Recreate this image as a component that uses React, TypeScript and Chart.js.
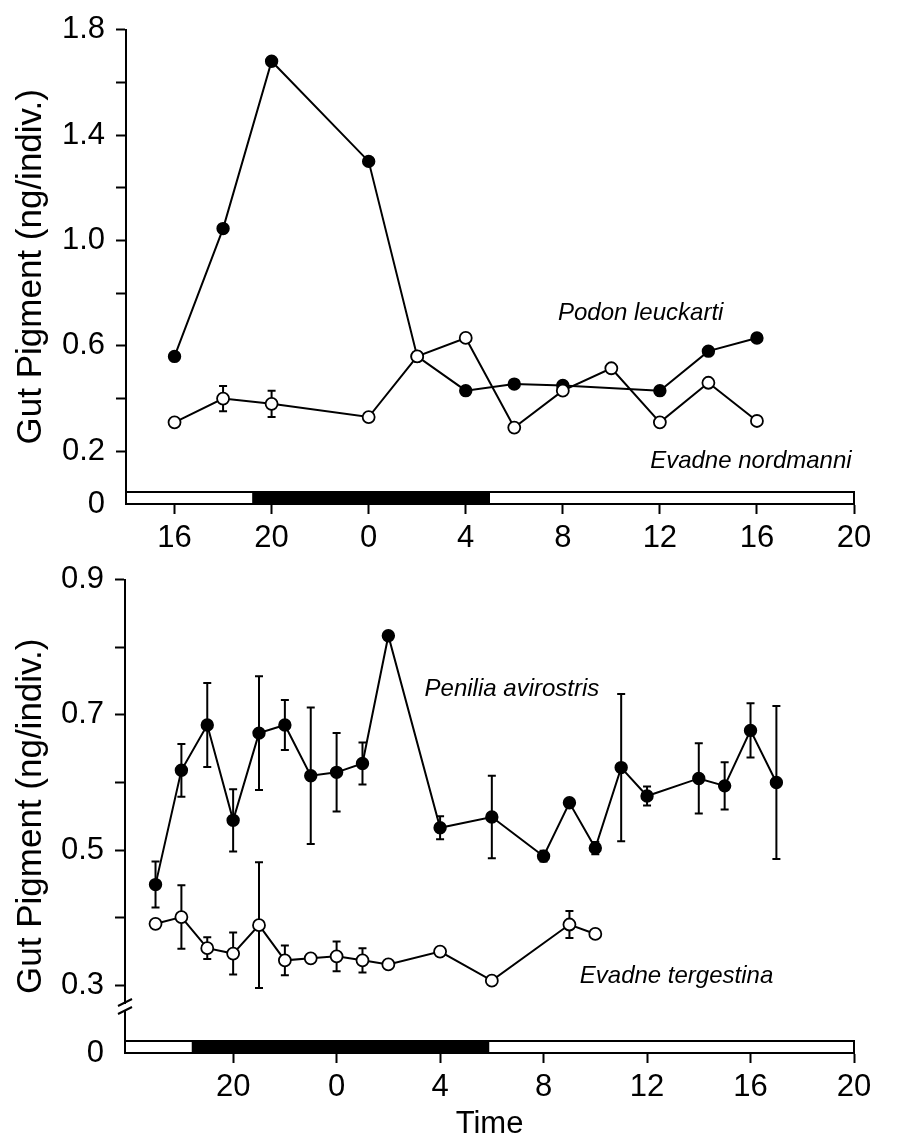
import React, { useEffect, useRef } from "react";
import { Chart, registerables } from "chart.js";

Chart.register(...registerables);

const FONT = '"Liberation Sans", Arial, Helvetica, sans-serif';

// ---------- Top panel data ----------
const topHourTicks = [16, 20, 24, 28, 32, 36, 40, 44];
const topValueTicks = [0, 0.2, 0.4, 0.6, 0.8, 1.0, 1.2, 1.4, 1.6, 1.8];
const topValueLabels = ["0", "0.2", "", "0.6", "", "1.0", "", "1.4", "", "1.8"];
const podonHours = [16, 18, 20, 24, 26, 28, 30, 32, 36, 38, 40];
const podonValues = [0.56, 1.045, 1.68, 1.3, 0.56, 0.43, 0.455, 0.45, 0.43, 0.58, 0.63];
const nordmanniHours = [16, 18, 20, 24, 26, 28, 30, 32, 34, 36, 38, 40];
const nordmanniValues = [0.31, 0.4, 0.38, 0.33, 0.56, 0.63, 0.29, 0.43, 0.515, 0.31, 0.46, 0.315];
const nordmanniErrors = [0, 0.048, 0.05, 0, 0, 0, 0, 0, 0, 0, 0, 0];
const topDark = [19.2, 29];

// ---------- Bottom panel data ----------
const bottomHourTicks = [20, 24, 28, 32, 36, 40, 44];
const bottomValueTicks = [0.2, 0.3, 0.4, 0.5, 0.6, 0.7, 0.8, 0.9];
const bottomValueLabels = ["0", "0.3", "", "0.5", "", "0.7", "", "0.9"];
const peniliaHours = [17, 18, 19, 20, 21, 22, 23, 24, 25, 26, 28, 30, 32, 33, 34, 35, 36, 38, 39, 40, 41];
const peniliaValues = [0.449, 0.618, 0.685, 0.544, 0.673, 0.685, 0.61, 0.615, 0.628, 0.817, 0.533, 0.549, 0.491, 0.57, 0.503, 0.622, 0.58, 0.606, 0.595, 0.677, 0.6];
const peniliaErrors = [0.034, 0.039, 0.062, 0.046, 0.084, 0.037, 0.101, 0.058, 0.031, 0, 0.017, 0.061, 0.008, 0, 0.009, 0.109, 0.014, 0.052, 0.035, 0.04, 0.113];
const tergestinaHours = [17, 18, 19, 20, 21, 22, 23, 24, 25, 26, 28, 30, 33, 34];
const tergestinaValues = [0.391, 0.401, 0.355, 0.347, 0.389, 0.337, 0.34, 0.343, 0.337, 0.331, 0.35, 0.307, 0.39, 0.376];
const tergestinaErrors = [0, 0.047, 0.016, 0.031, 0.093, 0.022, 0, 0.022, 0.018, 0, 0, 0, 0.02, 0];
const bottomDark = [18.4, 29.9];

const pts = (xs: number[], ys: number[]) => xs.map((x, i) => ({ x, y: ys[i] }));

const errorBarPlugin = {
  id: "errorBars",
  beforeDatasetsDraw(chart: any) {
    const ctx = chart.ctx;
    const xs = chart.scales.x;
    const ys = chart.scales.y;
    chart.data.datasets.forEach((ds: any) => {
      if (!ds.errors) return;
      ds.data.forEach((p: any, i: number) => {
        const e = ds.errors[i];
        if (!e) return;
        const x = xs.getPixelForValue(p.x);
        const y1 = ys.getPixelForValue(p.y + e);
        const y2 = ys.getPixelForValue(p.y - e);
        ctx.save();
        ctx.strokeStyle = "#000";
        ctx.lineWidth = 2;
        ctx.beginPath();
        ctx.moveTo(x, y1);
        ctx.lineTo(x, y2);
        ctx.moveTo(x - 4, y1);
        ctx.lineTo(x + 4, y1);
        ctx.moveTo(x - 4, y2);
        ctx.lineTo(x + 4, y2);
        ctx.stroke();
        ctx.restore();
      });
    });
  },
};

const makeDayNight = (dark: number[]) => ({
  id: "dayNight",
  beforeDatasetsDraw(chart: any) {
    const ctx = chart.ctx;
    const { left, right, bottom } = chart.chartArea;
    const xs = chart.scales.x;
    const h = 12;
    ctx.save();
    ctx.fillStyle = "#fff";
    ctx.fillRect(left, bottom - h, right - left, h);
    ctx.fillStyle = "#000";
    const x1 = xs.getPixelForValue(dark[0]);
    const x2 = xs.getPixelForValue(dark[1]);
    ctx.fillRect(x1, bottom - h, x2 - x1, h);
    ctx.strokeStyle = "#000";
    ctx.lineWidth = 2;
    ctx.strokeRect(left, bottom - h, right - left, h);
    ctx.restore();
  },
});

const makeLabels = (labels: { text: string; x: number; y: number }[]) => ({
  id: "speciesLabels",
  afterDatasetsDraw(chart: any) {
    const ctx = chart.ctx;
    const xs = chart.scales.x;
    const ys = chart.scales.y;
    ctx.save();
    ctx.fillStyle = "#000";
    ctx.font = `italic 24px ${FONT}`;
    ctx.textAlign = "left";
    ctx.textBaseline = "alphabetic";
    labels.forEach((l) => {
      ctx.fillText(l.text, xs.getPixelForValue(l.x), ys.getPixelForValue(l.y));
    });
    ctx.restore();
  },
});

const breakPlugin = {
  id: "axisBreak",
  afterDraw(chart: any) {
    const ctx = chart.ctx;
    const ys = chart.scales.y;
    const x = chart.chartArea.left;
    const y = ys.getPixelForValue(0.268);
    ctx.save();
    ctx.fillStyle = "#fff";
    ctx.fillRect(x - 3, y - 3, 6, 7);
    ctx.strokeStyle = "#000";
    ctx.lineWidth = 2;
    ctx.beginPath();
    ctx.moveTo(x - 7, y - 1);
    ctx.lineTo(x + 7, y - 8);
    ctx.moveTo(x - 7, y + 7);
    ctx.lineTo(x + 7, y);
    ctx.stroke();
    ctx.restore();
  },
};

interface PanelCfg {
  datasets: any[];
  xMin: number;
  xMax: number;
  xTicks: number[];
  yMin: number;
  yMax: number;
  yTicks: number[];
  yLabels: string[];
  padding: any;
  yWidth: number;
  xHeight: number;
  xTitle?: string;
  dark: number[];
  labels: { text: string; x: number; y: number }[];
  withBreak?: boolean;
}

function makePanel(canvas: HTMLCanvasElement, cfg: PanelCfg) {
  const plugins: any[] = [errorBarPlugin, makeDayNight(cfg.dark), makeLabels(cfg.labels)];
  if (cfg.withBreak) plugins.push(breakPlugin);
  return new Chart(canvas, {
    type: "line",
    data: { datasets: cfg.datasets },
    options: {
      animation: false,
      responsive: false,
      devicePixelRatio: 1,
      layout: { padding: cfg.padding },
      plugins: { legend: { display: false }, tooltip: { enabled: false } },
      scales: {
        x: {
          type: "linear",
          min: cfg.xMin,
          max: cfg.xMax,
          afterBuildTicks: (s: any) => {
            s.ticks = cfg.xTicks.map((v) => ({ value: v }));
          },
          afterFit: (s: any) => {
            s.height = cfg.xHeight;
          },
          ticks: {
            callback: (v: any) => String(Number(v) % 24),
            font: { family: FONT, size: 31 },
            color: "#000",
            padding: 6,
            maxRotation: 0,
            autoSkip: false,
          },
          grid: { drawOnChartArea: false, tickLength: 10, tickColor: "#000", tickWidth: 2 },
          border: { color: "#000", width: 2 },
          title: cfg.xTitle
            ? { display: true, text: cfg.xTitle, font: { family: FONT, size: 31 }, color: "#000", padding: { top: 0, bottom: 0 } }
            : { display: false },
        },
        y: {
          type: "linear",
          min: cfg.yMin,
          max: cfg.yMax,
          afterBuildTicks: (s: any) => {
            s.ticks = cfg.yTicks.map((v) => ({ value: v }));
          },
          afterFit: (s: any) => {
            s.width = cfg.yWidth;
          },
          ticks: {
            callback: (_v: any, i: number) => cfg.yLabels[i],
            font: { family: FONT, size: 31 },
            color: "#000",
            padding: 11,
            autoSkip: false,
          },
          grid: {
            drawOnChartArea: false,
            tickLength: 10,
            tickWidth: 2,
            tickColor: (c: any) => (c.tick && Math.abs(c.tick.value - cfg.yMin) < 1e-9 ? "rgba(0,0,0,0)" : "#000"),
          },
          border: { color: "#000", width: 2 },
          title: {
            display: true,
            text: "Gut Pigment (ng/indiv.)",
            font: { family: FONT, size: 35 },
            color: "#000",
            padding: { top: 10, bottom: 0 },
          },
        },
      },
    } as any,
    plugins,
  });
}

const lineStyle = (filled: boolean) => ({
  borderColor: "#000",
  borderWidth: 2,
  pointRadius: filled ? 5.8 : 6,
  pointBackgroundColor: filled ? "#000" : "#fff",
  pointBorderColor: "#000",
  pointBorderWidth: 1.8,
  tension: 0,
  fill: false,
});

export default function App() {
  const topRef = useRef<HTMLCanvasElement>(null);
  const botRef = useRef<HTMLCanvasElement>(null);

  useEffect(() => {
    Chart.defaults.color = "#000";
    const top = makePanel(topRef.current!, {
      datasets: [
        { ...lineStyle(false), data: pts(nordmanniHours, nordmanniValues), errors: nordmanniErrors, order: 0 },
        { ...lineStyle(true), data: pts(podonHours, podonValues), order: 1 },
      ],
      xMin: 14,
      xMax: 44,
      xTicks: topHourTicks,
      yMin: 0,
      yMax: 1.8,
      yTicks: topValueTicks,
      yLabels: topValueLabels,
      padding: { top: 20, right: 45, bottom: 0, left: 0 },
      yWidth: 126,
      xHeight: 46,
      dark: topDark,
      labels: [
        { text: "Podon leuckarti", x: 31.8, y: 0.7 },
        { text: "Evadne nordmanni", x: 35.6, y: 0.138 },
      ],
    });
    const bot = makePanel(botRef.current!, {
      datasets: [
        { ...lineStyle(false), data: pts(tergestinaHours, tergestinaValues), errors: tergestinaErrors, order: 0 },
        { ...lineStyle(true), data: pts(peniliaHours, peniliaValues), errors: peniliaErrors, order: 1 },
      ],
      xMin: 15.82,
      xMax: 44,
      xTicks: bottomHourTicks,
      yMin: 0.2,
      yMax: 0.9,
      yTicks: bottomValueTicks,
      yLabels: bottomValueLabels,
      padding: { top: 22, right: 45, bottom: 0, left: 0 },
      yWidth: 125,
      xHeight: 90,
      xTitle: "Time",
      dark: bottomDark,
      labels: [
        { text: "Penilia avirostris", x: 27.4, y: 0.728 },
        { text: "Evadne tergestina", x: 33.4, y: 0.303 },
      ],
      withBreak: true,
    });
    return () => {
      top.destroy();
      bot.destroy();
    };
  }, []);

  return (
    <div style={{ position: "absolute", left: 0, top: 0, width: 899, height: 1143, background: "#fff" }}>
      <canvas ref={topRef} width={899} height={550} style={{ position: "absolute", left: 0, top: 0, width: 899, height: 550 }} />
      <canvas ref={botRef} width={899} height={593} style={{ position: "absolute", left: 0, top: 550, width: 899, height: 593 }} />
    </div>
  );
}
